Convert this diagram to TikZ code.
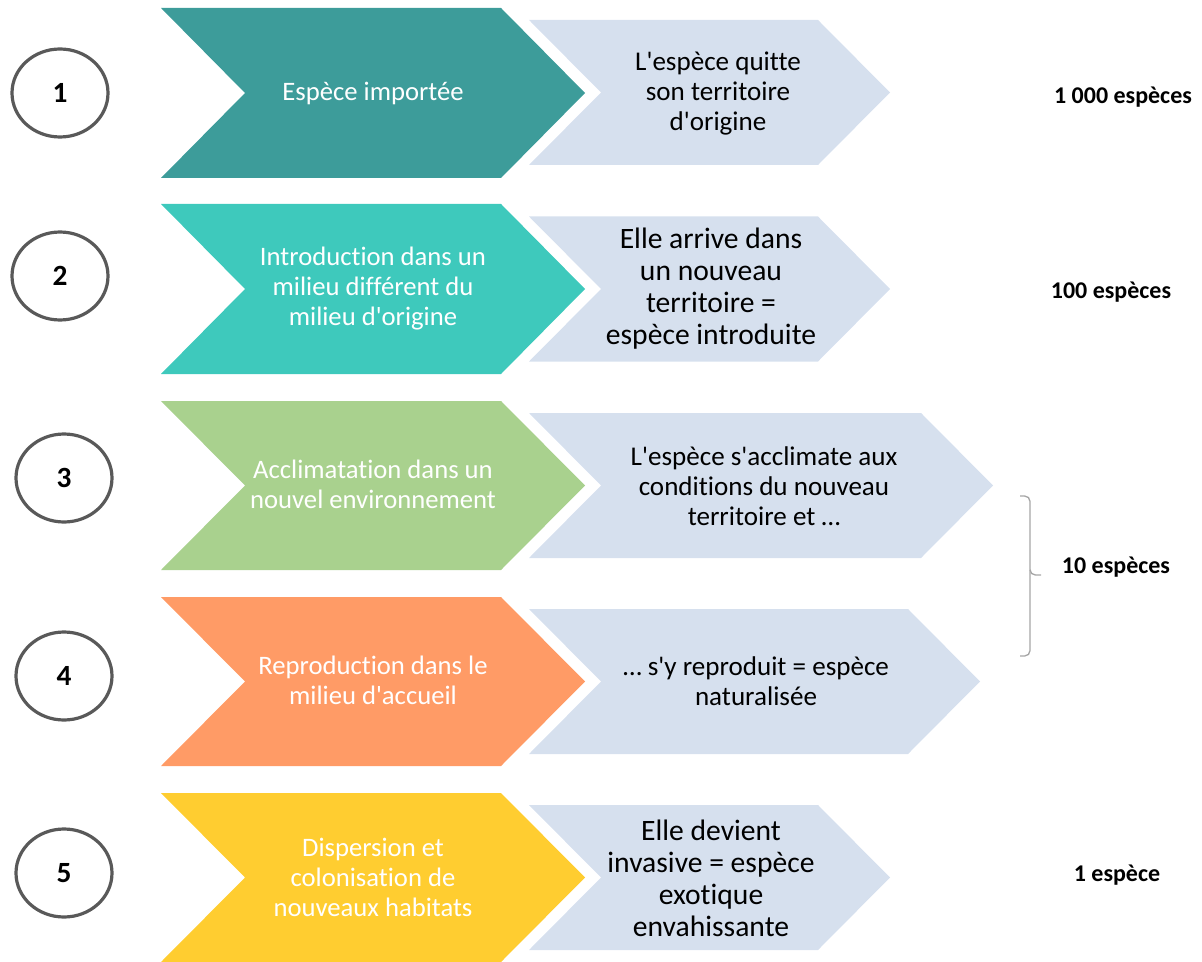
\documentclass[tikz,border=0pt]{standalone}
\usepackage{fontspec}
\setmainfont{Carlito}[Ligatures={TeXOff,CommonOff}]
\usepackage{xcolor}
\usetikzlibrary{positioning,shapes.geometric}
\definecolor{stepA}{HTML}{3D9C9A}
\definecolor{stepB}{HTML}{3EC9BC}
\definecolor{stepC}{HTML}{A9D18E}
\definecolor{stepD}{HTML}{FF9B66}
\definecolor{stepE}{HTML}{FFCD30}
\definecolor{pale}{HTML}{D6E0EE}
\definecolor{ring}{HTML}{595959}
\definecolor{brk}{HTML}{A6A6A6}

\begin{document}
\begin{tikzpicture}[x=0.75pt,y=-0.75pt,
  num node/.style={ellipse,draw=ring,line width=2.4pt,minimum width=72pt,minimum height=66pt,
    font=\fontsize{22}{24}\selectfont\bfseries},
  phase text/.style={align=center,text=white,font=\fontsize{20}{22.5}\selectfont},
  info text/.style={align=center,text=black,font=\fontsize{20.3}{22.5}\selectfont},
  big text/.style={align=center,text=black,font=\fontsize{22.2}{24}\selectfont},
  count text/.style={font=\fontsize{18}{20}\selectfont\bfseries}]
          \useasboundingbox (0,0) rectangle (1202,962);
          % colored chevrons
          \fill[stepA] (161,8) -- (501,8) -- (585,93) -- (501,178) -- (161,178) -- (245,93) -- cycle;
          \fill[stepB] (161,204) -- (501,204) -- (585,289) -- (501,374) -- (161,374) -- (245,289) -- cycle;
          \fill[stepC] (161,401) -- (501,401) -- (585,485.5) -- (501,570) -- (161,570) -- (245,485.5) -- cycle;
          \fill[stepD] (161,597) -- (501,597) -- (585,681.5) -- (501,766) -- (161,766) -- (245,681.5) -- cycle;
          \fill[stepE] (161,793) -- (501,793) -- (585,877.5) -- (501,962) -- (161,962) -- (245,877.5) -- cycle;
          % pale chevrons
          \fill[pale] (529,20) -- (818,20) -- (890,92.5) -- (818,165) -- (529,165) -- (601,92.5) -- cycle;
          \fill[pale] (529,216.5) -- (818,216.5) -- (890,289) -- (818,361.5) -- (529,361.5) -- (601,289) -- cycle;
          \fill[pale] (529,413) -- (921,413) -- (993,485.5) -- (921,558) -- (529,558) -- (601,485.5) -- cycle;
          \fill[pale] (529,609) -- (908,609) -- (980,681.5) -- (908,754) -- (529,754) -- (601,681.5) -- cycle;
          \fill[pale] (529,805) -- (818,805) -- (890,877.5) -- (818,950) -- (529,950) -- (601,877.5) -- cycle;
          % numbers
          \node[num node] at (60,93) (n1) {1};
          \node[num node] at (60,276) (n2) {2};
          \node[num node] at (64,478) (n3) {3};
          \node[num node] at (64,676) (n4) {4};
          \node[num node] at (64,873) (n5) {5};
          % phases
          \node[phase text] at (373,93) (p1) {Espèce importée};
          \node[phase text] at (373,289) (p2) {Introduction dans un\\milieu différent du\\milieu d'origine};
          \node[phase text] at (373,484) (p3) {Acclimatation dans un\\nouvel environnement};
          \node[phase text] at (373,680) (p4) {Reproduction dans le\\milieu d'accueil};
          \node[phase text] at (373,877) (p5) {Dispersion et\\colonisation de\\nouveaux habitats};
          % what happens
          \node[info text] at (718,94) (i1) {L'espèce quitte\\son territoire\\d'origine};
          \node[big text] at (711,289) (i2) {Elle arrive dans\\un nouveau\\territoire =\\espèce introduite};
          \node[info text] at (764,486) (i3) {L'espèce s'acclimate aux\\conditions du nouveau\\territoire et …};
          \node[info text] at (756,681) (i4) {… s'y reproduit = espèce\\naturalisée};
          \node[big text] at (711,878) (i5) {Elle devient\\invasive = espèce\\exotique\\envahissante};
          % counts
          \node[count text] at (1123,97) (c1) {1 000 espèces};
          \node[count text] at (1111,292) (c2) {100 espèces};
          \node[count text] at (1116,567) (c3) {10 espèces};
          \node[count text] at (1117,875) (c5) {1 espèce};
          \draw[brk,line width=1pt,rounded corners=4pt] (1020,496) -- (1030,496) -- (1030,575) -- (1041,575);
          \draw[brk,line width=1pt,rounded corners=4pt] (1030,570) -- (1030,656) -- (1020,656);
        \end{tikzpicture}
\end{document}
